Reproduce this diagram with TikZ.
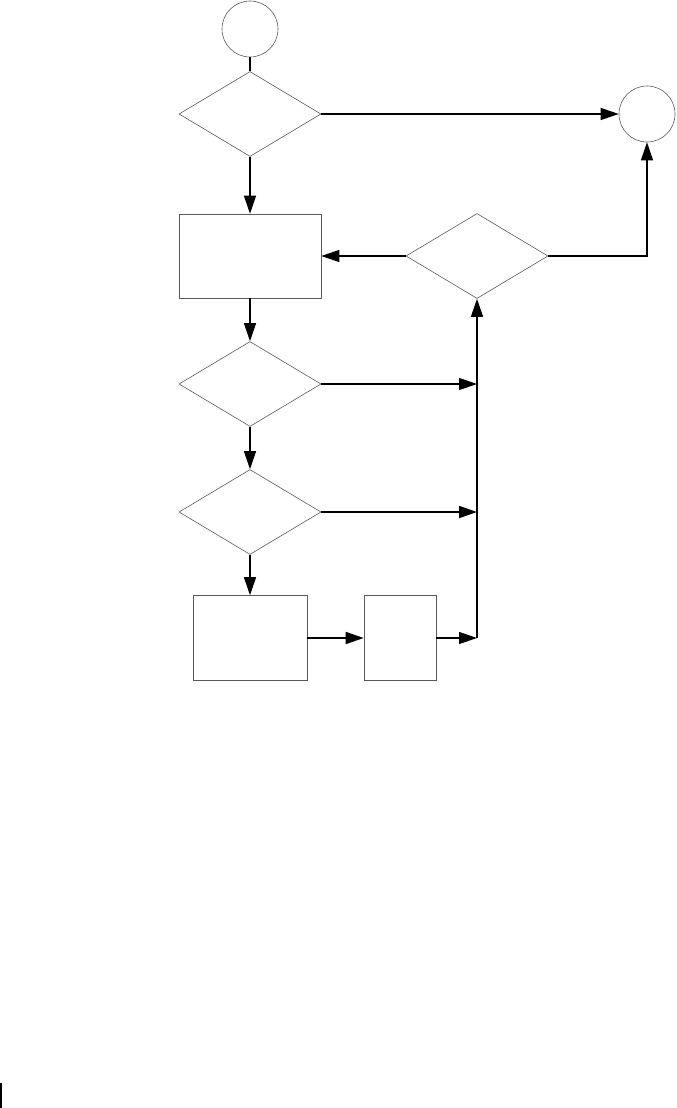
\documentclass[tikz,border=0pt]{standalone}
\usepackage{tikz}
\usetikzlibrary{positioning,shapes.geometric,arrows.meta}

\tikzset{
  flowbox/.style={draw=black!65, line width=0.6pt, rectangle, inner sep=0pt},
  decide/.style={draw=black!65, line width=0.6pt, diamond, inner sep=0pt,
    minimum width=142pt, minimum height=85pt},
  terminal/.style={draw=black!65, line width=0.6pt, circle, inner sep=0pt, minimum size=56pt},
  link/.style={draw=black, line width=1.2pt},
  flowarrow/.style={link, -{Triangle[length=18pt,width=12pt]}},
}

\begin{document}
\begin{tikzpicture}[x=1pt, y=-1pt]
      \useasboundingbox (0,0) rectangle (677,1108);
      % shapes
      \node[terminal] (start) at (250,29) {};
      \node[decide] (d1) at (250,114) {};
      \node[terminal] (stop) at (647,114) {};
      \node[flowbox, minimum width=142pt, minimum height=84pt] (b1) at (250,256) {};
      \node[decide] (d2) at (477,256) {};
      \node[decide] (d3) at (250,384) {};
      \node[decide] (d4) at (250,512) {};
      \node[flowbox, minimum width=114pt, minimum height=85pt] (b2) at (250,638) {};
      \node[flowbox, minimum width=72pt, minimum height=85pt] (b3) at (400,638) {};
      \coordinate (jn) at (477,638);
      % main column
      \draw[link] (start) -- (d1.north);
      \draw[flowarrow] (d1.south) -- (b1.north);
      \draw[flowarrow] (b1.south) -- (d3.north);
      \draw[flowarrow] (d3.south) -- (d4.north);
      \draw[flowarrow] (d4.south) -- (b2.north);
      \draw[flowarrow, line width=1.8pt] (b2.east) -- (b3.west);
      % return line
      \draw[flowarrow] (b3.east) -- (jn);
      \draw[flowarrow] (jn) -- (d2.south);
      \draw[flowarrow] (d3.east) -- (d3.east -| jn);
      \draw[flowarrow, line width=1.8pt] (d4.east) -- (d4.east -| jn);
      \draw[flowarrow] (d2.west) -- (b1.east);
      \draw[flowarrow] (d2.east) -| (stop.south);
      \draw[flowarrow] (d1.east) -- (stop.west);
      % mark in the corner
      \draw[line width=2pt] (1,1083) -- (1,1108);
    \end{tikzpicture}
\end{document}
